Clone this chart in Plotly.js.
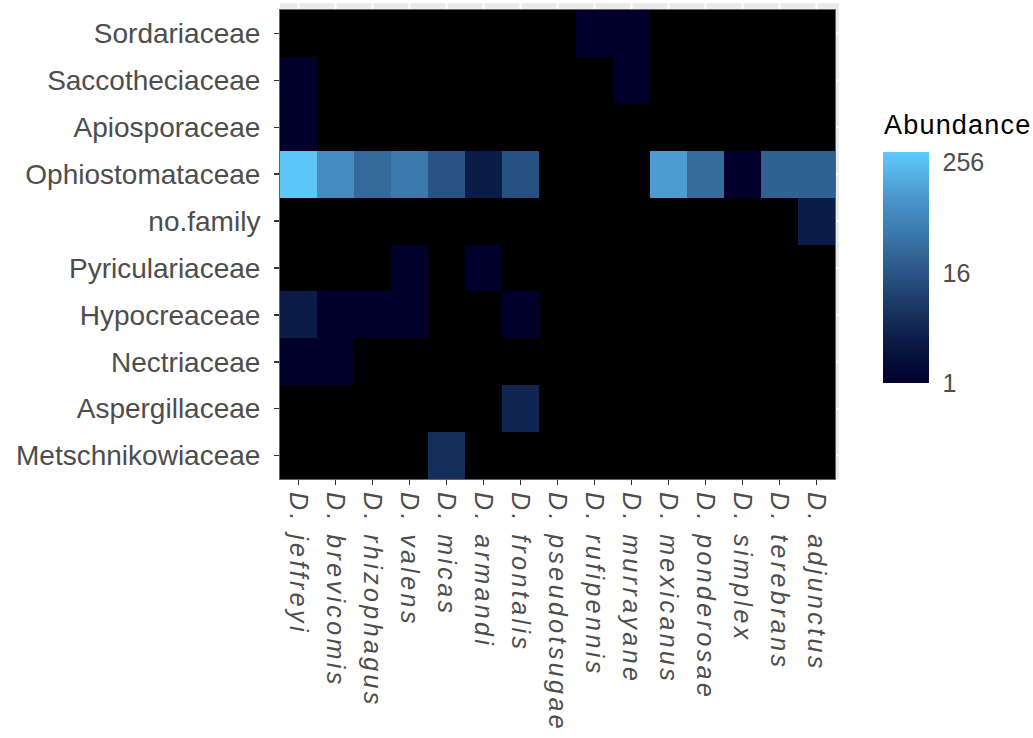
<!DOCTYPE html>
<html>
<head>
<meta charset="utf-8">
<script src="https://cdn.plot.ly/plotly-3.0.1.min.js"></script>
<style>
  html, body { margin: 0; padding: 0; background: #ffffff; }
  #chart { width: 1033px; height: 738px; }
  .xtick text { letter-spacing: 3.4px; }
  .annotation-text { letter-spacing: 1.2px; }
</style>
</head>
<body>
<div id="chart"></div>
<script>
// Columns (bark beetle species)
const species = ["D. jeffreyi","D. brevicomis","D. rhizophagus","D. valens","D. micas","D. armandi","D. frontalis","D. pseudotsugae","D. rufipennis","D. murrayane","D. mexicanus","D. ponderosae","D. simplex","D. terebrans","D. adjunctus"];

// Rows (fungal families), top to bottom
const families = ["Sordariaceae","Saccotheciaceae","Apiosporaceae","Ophiostomataceae","no.family","Pyriculariaceae","Hypocreaceae","Nectriaceae","Aspergillaceae","Metschnikowiaceae"];

// Abundance per family (null = absent), one value per species column
const sordariaceae      = [null,null,null,null,null,null,null,null,1,1,null,null,null,null,null];
const saccotheciaceae   = [1,null,null,null,null,null,null,null,null,1,null,null,null,null,null];
const apiosporaceae     = [1,null,null,null,null,null,null,null,null,null,null,null,null,null,null];
const ophiostomataceae  = [300,80,28,44,15,3,14,null,null,null,120,30,1,22,22];
const noFamily          = [null,null,null,null,null,null,null,null,null,null,null,null,null,null,3];
const pyriculariaceae   = [null,null,null,1,null,1,null,null,null,null,null,null,null,null,null];
const hypocreaceae      = [3,1,1,1,null,null,1,null,null,null,null,null,null,null,null];
const nectriaceae       = [1,1,null,null,null,null,null,null,null,null,null,null,null,null,null];
const aspergillaceae    = [null,null,null,null,null,null,4,null,null,null,null,null,null,null,null];
const metschnikowiaceae = [null,null,null,null,5,null,null,null,null,null,null,null,null,null,null];

const abundanceRows = [sordariaceae, saccotheciaceae, apiosporaceae, ophiostomataceae, noFamily,
                       pyriculariaceae, hypocreaceae, nectriaceae, aspergillaceae, metschnikowiaceae];

// Legend breaks
const legendBreaks = [1, 16, 256];
const legendMin = 1;
const legendMax = 335;

const log2 = v => (v === null ? null : Math.log2(v));
const zLog = abundanceRows.map(r => r.map(log2));

const colorscale = [
  [0.0,  "#00002b"],
  [0.2,  "#0c1e48"],
  [0.45, "#27507f"],
  [0.62, "#3873a6"],
  [0.8,  "#4a96cb"],
  [1.0,  "#5fcbfd"]
];

const FONT = "Liberation Sans, Arial, sans-serif";

// Plot-area geometry (pixels) used for legend placement
const W = 1033, H = 738;
const M = { l: 280, r: 198, t: 10, b: 259 };
const plotW = W - M.l - M.r, plotH = H - M.t - M.b;
const barLeftPx = 883, barW = 46, barTopPx = 152, barBotPx = 383;
const toPX = px => (px - M.l) / plotW;
const toPY = py => (H - M.b - py) / plotH;

const zMin = Math.log2(legendMin), zMax = Math.log2(legendMax);

const trace = {
  type: "heatmap",
  x: species,
  y: families,
  z: zLog,
  zmin: zMin,
  zmax: zMax,
  colorscale: colorscale,
  hoverongaps: false,
  colorbar: {
    tickvals: legendBreaks.map(Math.log2),
    ticktext: legendBreaks.map(String),
    tickfont: { family: FONT, size: 25, color: "#4d4d4d" },
    ticks: "outside",
    ticklen: 9,
    tickcolor: "rgba(255,255,255,0)",
    tickwidth: 1,
    outlinewidth: 0,
    thickness: barW,
    thicknessmode: "pixels",
    len: barBotPx - barTopPx,
    lenmode: "pixels",
    x: toPX(barLeftPx),
    xanchor: "left",
    xref: "paper",
    y: toPY((barTopPx + barBotPx) / 2),
    yanchor: "middle",
    xpad: 0,
    ypad: 0
  }
};

// Light grey ggplot panel edge visible above and to the right of the tiles
const nX = species.length, nY = families.length;
const shapes = [
  { type: "rect", xref: "paper", yref: "paper", x0: 0, x1: 1 + 4/plotW, y0: 1, y1: 1 + 7/plotH,
    fillcolor: "#ebebeb", line: { width: 0 }, layer: "below" },
  { type: "rect", xref: "paper", yref: "paper", x0: 1, x1: 1 + 4/plotW, y0: 0, y1: 1 + 7/plotH,
    fillcolor: "#ebebeb", line: { width: 0 }, layer: "below" }
];
species.forEach((s, i) => {
  const px = (i + 0.5) / nX;
  shapes.push({ type: "line", xref: "paper", yref: "paper", x0: px, x1: px, y0: 1, y1: 1 + 7/plotH,
                line: { color: "#ffffff", width: 2 }, layer: "below" });
});
families.forEach((f, j) => {
  const py = 1 - (j + 0.5) / nY;
  shapes.push({ type: "line", xref: "paper", yref: "paper", x0: 1, x1: 1 + 4/plotW, y0: py, y1: py,
                line: { color: "#ffffff", width: 2 }, layer: "below" });
});
// White tick marks on both edges of the colour bar (ggplot style)
const tickLenPx = 9;
legendBreaks.forEach(b => {
  const frac = (Math.log2(b) - zMin) / (zMax - zMin);
  const yPix = barBotPx - frac * (barBotPx - barTopPx);
  const yp = toPY(yPix);
  shapes.push({ type: "line", xref: "paper", yref: "paper",
                x0: toPX(barLeftPx), x1: toPX(barLeftPx + tickLenPx), y0: yp, y1: yp,
                line: { color: "#ffffff", width: 1.2 } });
  shapes.push({ type: "line", xref: "paper", yref: "paper",
                x0: toPX(barLeftPx + barW - tickLenPx), x1: toPX(barLeftPx + barW), y0: yp, y1: yp,
                line: { color: "#ffffff", width: 1.2 } });
});

const annotations = [{
  text: "Abundance",
  xref: "paper", yref: "paper",
  x: toPX(barLeftPx - 1), y: toPY(barTopPx - 10),
  xanchor: "left", yanchor: "bottom",
  showarrow: false,
  font: { family: FONT, size: 27, color: "#000000" }
}];

const layout = {
  width: W,
  height: H,
  margin: { l: M.l, r: M.r, t: M.t, b: M.b, pad: 0 },
  paper_bgcolor: "#ffffff",
  plot_bgcolor: "#000000",
  font: { family: FONT, color: "#4d4d4d" },
  xaxis: {
    type: "category",
    categoryorder: "array",
    categoryarray: species,
    tickangle: 90,
    tickfont: { family: FONT, size: 25, color: "#4d4d4d", style: "italic" },
    ticks: "outside",
    ticklen: 5,
    tickcolor: "#333333",
    tickwidth: 1.5,
    showgrid: false,
    zeroline: false,
    showline: true,
    mirror: true,
    linecolor: "#666666",
    linewidth: 1,
    ticklabelstandoff: 2,
    automargin: false,
    fixedrange: true
  },
  yaxis: {
    type: "category",
    categoryorder: "array",
    categoryarray: families,
    autorange: "reversed",
    tickfont: { family: FONT, size: 28, color: "#4d4d4d" },
    ticks: "outside",
    ticklen: 5,
    tickcolor: "#333333",
    tickwidth: 1.5,
    showgrid: false,
    zeroline: false,
    showline: true,
    mirror: true,
    linecolor: "#666666",
    linewidth: 1,
    ticklabelstandoff: 8,
    automargin: false,
    fixedrange: true
  },
  shapes: shapes,
  annotations: annotations,
  showlegend: false
};

Plotly.newPlot("chart", [trace], layout, { displayModeBar: false, staticPlot: true });
</script>
</body>
</html>
